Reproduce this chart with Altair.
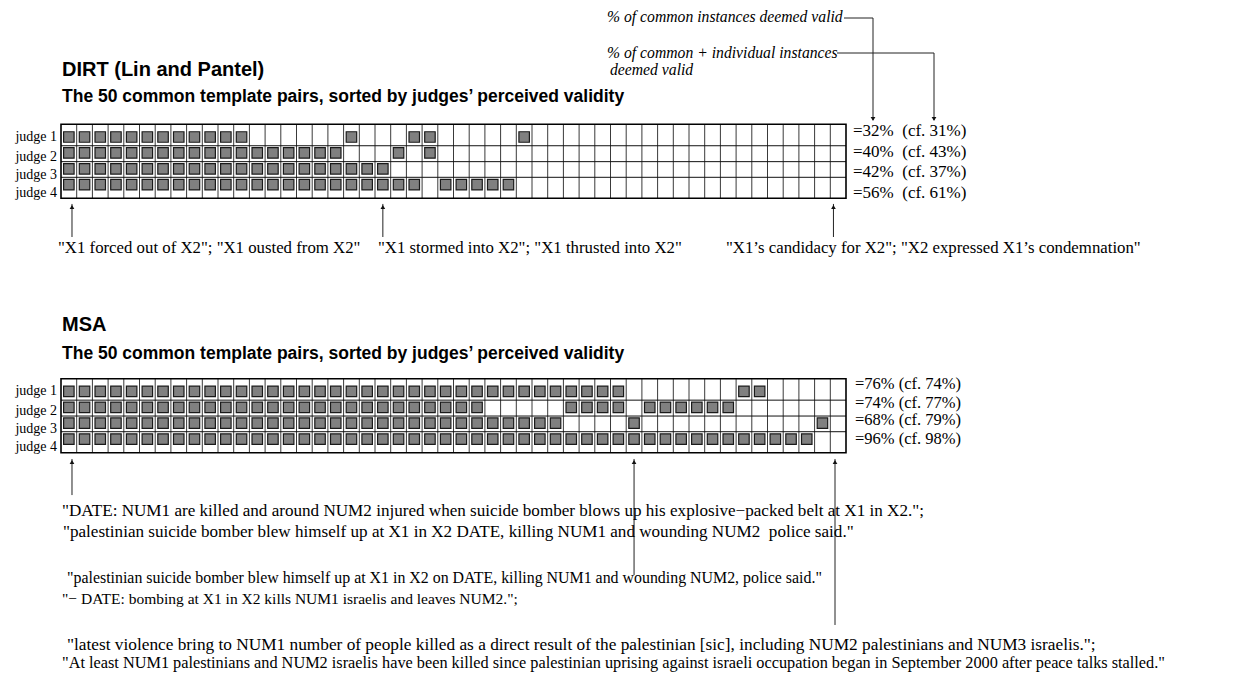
import altair as alt
import pandas as pd

# ---------------- data ----------------
judges = ["judge 1", "judge 2", "judge 3", "judge 4"]

# 50 common template pairs; "1" = judged valid (read from the grids, left to right)
dirt_grid = [
    "1111111111 1100000010 0011000001 0000000000 0000000000",
    "1111111111 1111111100 0101000000 0000000000 0000000000",
    "1111111111 1111111111 1000000000 0000000000 0000000000",
    "1111111111 1111111111 1110111110 0000000000 0000000000",
]
msa_grid = [
    "1111111111 1111111111 1111111111 1111110000 0001100000",
    "1111111111 1111111111 1111111000 0011110111 1110000000",
    "1111111111 1111111111 1111111111 1100001000 0000000010",
    "1111111111 1111111111 1111111111 1111111111 1111111100",
]
dirt_pct = [32, 40, 42, 56]
dirt_cf = [31, 43, 37, 61]
msa_pct = [76, 74, 68, 96]
msa_cf = [74, 77, 79, 98]

dirt_title = "DIRT (Lin and Pantel)"
msa_title = "MSA"
subtitle = "The 50 common template pairs, sorted by judges\u2019 perceived validity"
note_common = "% of common instances deemed valid"
note_all_1 = "% of common + individual instances"
note_all_2 = "deemed valid"

dirt_quotes = [
    "\"X1 forced out of X2\"; \"X1 ousted from X2\"",
    "\"X1 stormed into X2\"; \"X1 thrusted into X2\"",
    "\"X1\u2019s candidacy for X2\"; \"X2 expressed X1\u2019s condemnation\"",
]
msa_quotes = [
    "\"DATE: NUM1 are killed and around NUM2 injured when suicide bomber blows up his explosive\u2212packed belt at X1 in X2.\";",
    "\"palestinian suicide bomber blew himself up at X1 in X2 DATE, killing NUM1 and wounding NUM2\u00a0 police said.\"",
    "\"palestinian suicide bomber blew himself up at X1 in X2 on DATE, killing NUM1 and wounding NUM2, police said.\"",
    "\"\u2212 DATE: bombing at X1 in X2 kills NUM1 israelis and leaves NUM2.\";",
    "\"latest violence bring to NUM1 number of people killed as a direct result of the palestinian [sic], including NUM2 palestinians and NUM3 israelis.\";",
    "\"At least NUM1 palestinians and NUM2 israelis have been killed since palestinian uprising against israeli occupation began in September 2000 after peace talks stalled.\"",
]

# ---------------- layout ----------------
SERIF = "Liberation Serif"
SANS = "Liberation Sans"
W, H = 1217, 664
XS = alt.Scale(domain=[0, 50], range=[53, 838], nice=False, zero=False)
YS = alt.Scale(domain=[1, 20], range=[129, 431.1], nice=False, zero=False)
SHIFT = {"DIRT": 0, "MSA": 16}
EDGES = [0.2, 1.55, 2.55, 3.535, 4.855]
LABEL_OFF = [0.97, 2.25, 3.38, 4.51]
PCT_OFF = {"DIRT": [0.62, 1.94, 3.20, 4.52], "MSA": [0.53, 1.72, 2.79, 3.99]}


def X(f):
    return alt.X(f, type="quantitative", scale=XS, axis=None)


def Y(f):
    return alt.Y(f, type="quantitative", scale=YS, axis=None)


rows_sq, rows_v, rows_h, rows_box, rows_lab, rows_pct = [], [], [], [], [], []
for panel, grid, pct, cf in [("DIRT", dirt_grid, dirt_pct, dirt_cf), ("MSA", msa_grid, msa_pct, msa_cf)]:
    s = SHIFT[panel]
    for j, line in enumerate(grid):
        cells = line.replace(" ", "")
        for c, v in enumerate(cells, start=1):
            if v == "1":
                rows_sq.append({"xc": c - 0.5, "row": s + j + 1})
        rows_lab.append({"row": s + LABEL_OFF[j], "t": judges[j]})
        sep = "\u00a0 " if panel == "DIRT" else " "
        rows_pct.append({"panel": panel, "row": s + PCT_OFF[panel][j],
                         "t": f"={pct[j]}%{sep}(cf. {cf[j]}%)"})
    for c in range(1, 50):
        rows_v.append({"c": c, "y0": s + EDGES[0], "y1": s + EDGES[-1]})
    for e in EDGES[1:-1]:
        rows_h.append({"x0": 0, "x1": 50, "y": s + e})
    rows_box.append({"x0": 0, "x1": 50, "y0": s + EDGES[0], "y1": s + EDGES[-1]})

sq_df = pd.DataFrame(rows_sq)
v_df = pd.DataFrame(rows_v)
h_df = pd.DataFrame(rows_h)
box_df = pd.DataFrame(rows_box)
lab_df = pd.DataFrame(rows_lab)
pct_df = pd.DataFrame(rows_pct)

layers = []
layers.append(alt.Chart(v_df).mark_rule(color="#3a3a3a", strokeWidth=1).encode(
    x=X("c"), y=Y("y0"), y2="y1"))
layers.append(alt.Chart(h_df).mark_rule(color="#111111", strokeWidth=1).encode(
    x=X("x0"), x2="x1", y=Y("y")))
layers.append(alt.Chart(box_df).mark_rect(fill=None, stroke="black", strokeWidth=1.6).encode(
    x=X("x0"), x2="x1", y=Y("y0"), y2="y1"))
layers.append(alt.Chart(sq_df).mark_square(size=110, filled=True, fill="#808080",
                                           stroke="#1a1a1a", strokeWidth=1.2, opacity=1).encode(
    x=X("xc"), y=Y("row")))
layers.append(alt.Chart(lab_df).mark_text(align="right", baseline="middle", font=SERIF,
                                          fontSize=14, color="black").encode(
    x=alt.value(49), y=Y("row"), text="t:N"))
for panel, xpx, fs in [("DIRT", 845, 17), ("MSA", 847, 16.5)]:
    layers.append(alt.Chart(pct_df[pct_df.panel == panel]).mark_text(
        align="left", baseline="middle", font=SERIF, fontSize=fs, color="black").encode(
        x=alt.value(xpx), y=Y("row"), text="t:N"))

# arrows under the grids (column units / row units)
arr_df = pd.DataFrame({
    "x": [0.7, 20.5, 49.2, 0.7, 36.5, 49.3],
    "tip": [5.21, 5.21, 5.21, 21.25, 21.25, 21.25],
    "bot": [7.29, 7.29, 7.29, 23.52, 28.55, 31.69],
})
layers.append(alt.Chart(arr_df).mark_rule(color="#222222", strokeWidth=1).encode(
    x=X("x"), y=Y("tip"), y2="bot"))
layers.append(alt.Chart(arr_df).mark_point(shape="triangle-up", filled=True, size=22,
                                           color="#111111", opacity=1, yOffset=3).encode(
    x=X("x"), y=Y("tip")))


def label(txt, x, y, size=15, font=SERIF, style="normal", weight="normal"):
    return alt.Chart(pd.DataFrame({"t": [txt]})).mark_text(
        align="left", baseline="middle", font=font, fontSize=size, fontStyle=style,
        fontWeight=weight, color="black").encode(x=alt.value(x), y=alt.value(y), text="t:N")


def prule(x, y, x2, y2):
    return alt.Chart(pd.DataFrame({"a": [0]})).mark_rule(color="#222222", strokeWidth=1).encode(
        x=alt.value(x), y=alt.value(y), x2=alt.value(x2), y2=alt.value(y2))


def phead(x, y):
    return alt.Chart(pd.DataFrame({"a": [0]})).mark_point(
        shape="triangle-down", filled=True, size=22, color="#111111", opacity=1).encode(
        x=alt.value(x), y=alt.value(y))


# titles
layers.append(label(dirt_title, 54, 62, size=20, font=SANS, weight="bold"))
layers.append(label(subtitle, 54, 89, size=17.5, font=SANS, weight="bold"))
layers.append(label(msa_title, 54, 317, size=20, font=SANS, weight="bold"))
layers.append(label(subtitle, 54, 346, size=17.5, font=SANS, weight="bold"))

# notes at top right
layers.append(label(note_common, 599, 9, size=15.7, style="italic"))
layers.append(label(note_all_1, 599, 45, size=15.7, style="italic"))
layers.append(label(note_all_2, 602, 62, size=15.7, style="italic"))
layers.append(prule(836, 10, 865, 10))
layers.append(prule(865, 10, 865, 112))
layers.append(phead(865, 111))
layers.append(prule(829, 45, 926, 45))
layers.append(prule(926, 45, 926, 112))
layers.append(phead(926, 111))

# quotes
for txt, xpx in zip(dirt_quotes, [50, 370, 718]):
    layers.append(label(txt, xpx, 240, size=16.8))
msa_pos = [(54, 503), (55, 524), (59, 570), (54, 591), (59, 637), (54, 655)]
msa_sizes = [17.1, 17.1, 15.9, 15.5, 17.3, 16.3]
for txt, (xpx, ypx), fs in zip(msa_quotes, msa_pos, msa_sizes):
    layers.append(label(txt, xpx, ypx, size=fs))

chart = alt.layer(*layers).properties(
    width=W, height=H, padding=0, autosize=alt.AutoSizeParams(type="none")
).configure_view(stroke=None)

chart.save("out.html", embed_options={"renderer": "svg", "actions": False})
